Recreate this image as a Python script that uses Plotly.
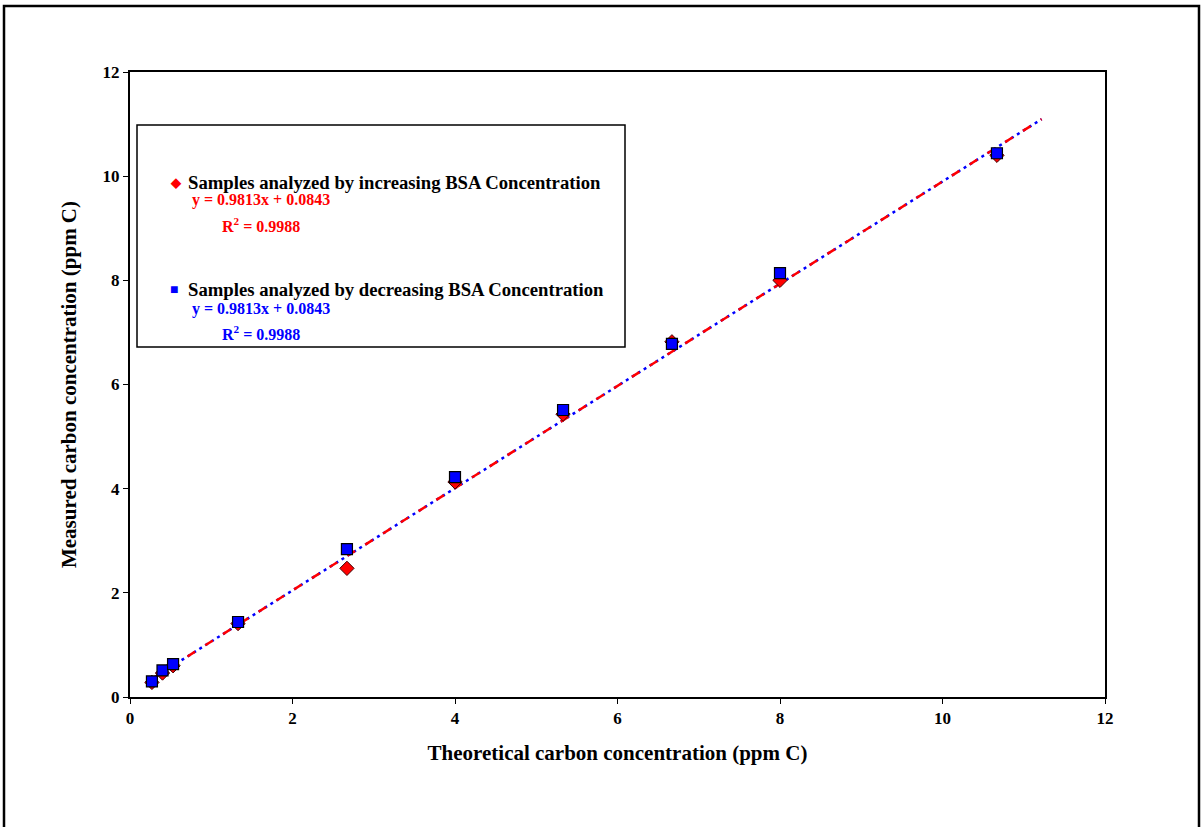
import plotly.graph_objects as go

# Data
theoretical = [0.27, 0.40, 0.53, 1.33, 2.67, 4.00, 5.33, 6.67, 8.00, 10.67]
increasing = [0.28, 0.46, 0.60, 1.41, 2.47, 4.13, 5.43, 6.82, 8.00, 10.40]
decreasing = [0.30, 0.51, 0.63, 1.44, 2.84, 4.22, 5.51, 6.78, 8.14, 10.44]
slope_inc, intercept_inc = 0.9813, 0.0843
slope_dec, intercept_dec = 0.9813, 0.0843
trend_x = [0.27, 11.22]

W, H = 1202, 827
L, R, T, B = 130, 97, 72, 130
pw, ph = W - L - R, H - T - B

def px(x):
    return (x - L) / pw

def py(y):
    return (H - B - y) / ph

FONT = "Liberation Serif"

fig = go.Figure()

trend_inc = [slope_inc * x + intercept_inc for x in trend_x]
trend_dec = [slope_dec * x + intercept_dec for x in trend_x]

fig.add_trace(go.Scatter(x=trend_x, y=trend_dec, mode="lines",
                         line=dict(color="#0000ff", width=2.5, dash="3px,4px"),
                         showlegend=False, hoverinfo="skip"))
fig.add_trace(go.Scatter(x=trend_x, y=trend_inc, mode="lines",
                         line=dict(color="#ff0000", width=2.5, dash="9px,12px"),
                         showlegend=False, hoverinfo="skip"))
fig.add_trace(go.Scatter(x=theoretical, y=increasing, mode="markers",
                         name="Samples analyzed by increasing BSA Concentration",
                         marker=dict(symbol="diamond", size=11, color="#ff0000",
                                     line=dict(color="#400000", width=1)),
                         showlegend=False))
fig.add_trace(go.Scatter(x=theoretical, y=decreasing, mode="markers",
                         name="Samples analyzed by decreasing BSA Concentration",
                         marker=dict(symbol="square", size=11, color="#0000ff",
                                     line=dict(color="#000000", width=1.2)),
                         showlegend=False))

shapes = [
    # outer frame
    dict(type="rect", xref="paper", yref="paper",
         x0=px(4), x1=px(1199), y0=py(835), y1=py(6),
         line=dict(color="black", width=2.5), layer="below"),
    # legend box
    dict(type="rect", xref="paper", yref="paper",
         x0=px(137), x1=px(625), y0=py(347), y1=py(125),
         line=dict(color="black", width=1.5), fillcolor="white"),
]

ann = []
def add(text, x, y, color, size=15, bold=True):
    ann.append(dict(xref="paper", yref="paper", x=px(x), y=py(y), text=(f"<b>{text}</b>" if bold else text),
                    showarrow=False, xanchor="left", yanchor="middle",
                    font=dict(family=FONT, size=size, color=color)))

add("◆", 168, 182, "#ff0000", size=13)
add("Samples analyzed by increasing BSA Concentration", 186, 182, "black", size=18.7)
add("y = 0.9813x + 0.0843", 190, 200, "#ff0000", size=16)
add("R<sup>2</sup> = 0.9988", 220, 225, "#ff0000", size=16)
add("■", 168, 289, "#0000ff", size=14)
add("Samples analyzed by decreasing BSA Concentration", 186, 289, "black", size=18.7)
add("y = 0.9813x + 0.0843", 190, 309, "#0000ff", size=16)
add("R<sup>2</sup> = 0.9988", 220, 333, "#0000ff", size=16)

axis_common = dict(range=[0, 12], dtick=2, tick0=0, showgrid=False, zeroline=False,
                   showline=True, linecolor="black", linewidth=2, mirror=True,
                   ticks="outside", ticklen=5, tickcolor="black", tickwidth=1,
                   tickfont=dict(family=FONT, size=17, color="black", weight="bold"))

fig.update_layout(
    width=W, height=H,
    margin=dict(l=L, r=R, t=T, b=B),
    paper_bgcolor="white", plot_bgcolor="white",
    xaxis=dict(**axis_common,
               title=dict(text="<b>Theoretical carbon concentration (ppm C)</b>",
                          font=dict(family=FONT, size=21, color="black"), standoff=18)),
    yaxis=dict(**axis_common,
               title=dict(text="<b>Measured carbon concentration (ppm C)</b>",
                          font=dict(family=FONT, size=21, color="black"), standoff=20)),
    shapes=shapes,
    annotations=ann,
    showlegend=False,
)

fig.write_html("out.html", config={"displayModeBar": False},
               post_script="document.body.style.margin='0';document.body.style.overflow='hidden';")
